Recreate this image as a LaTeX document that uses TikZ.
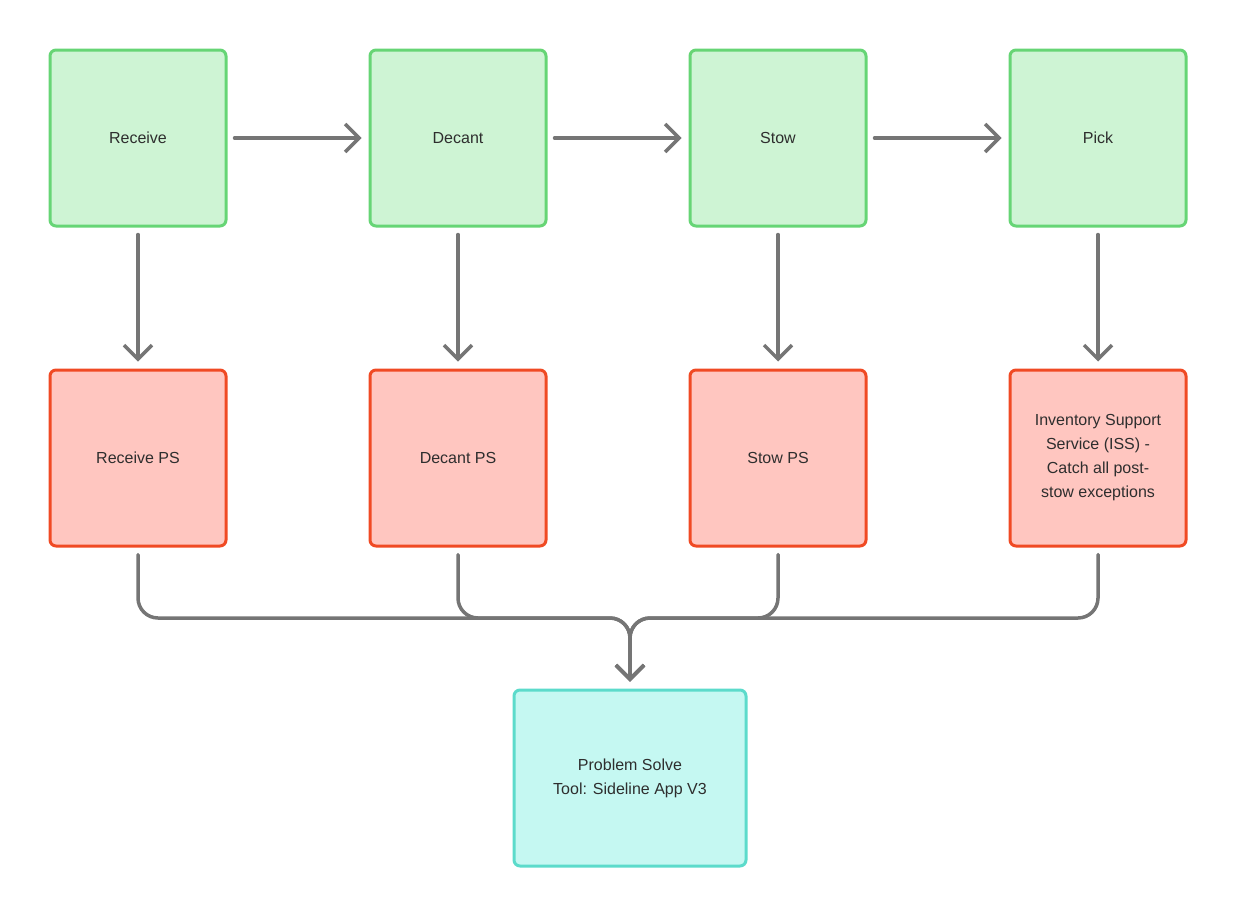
\documentclass[tikz,border=0pt]{standalone}
\usepackage{fontspec}
\setmainfont{Liberation Sans}
\usepackage{xcolor}
\usetikzlibrary{arrows.meta, positioning}

\begin{document}
\begin{tikzpicture}[
        x=1pt, y=-1pt,
        node distance=141pt and 141pt,
        stagebox/.style={draw, rounded corners=6pt, line width=3pt,
            fill={rgb,255:red,206;green,244;blue,212},
            draw={rgb,255:red,102;green,213;blue,117},
            minimum width=176pt, minimum height=176pt, align=center,
            font=\fontsize{16}{24}\selectfont, text={rgb,255:red,46;green,46;blue,46}},
        psbox/.style={stagebox,
            fill={rgb,255:red,255;green,198;blue,192},
            draw={rgb,255:red,240;green,74;blue,36}},
        toolbox/.style={stagebox, minimum width=232pt,
            fill={rgb,255:red,197;green,248;blue,242},
            draw={rgb,255:red,92;green,219;blue,203}},
        arrow/.style={-{Straight Barb[length=14pt, width=28pt]}, line width=3.5pt,
            line cap=round, line join=round, color={rgb,255:red,117;green,117;blue,117}},
        bus/.style={arrow, rounded corners=20pt},
    ]
        \useasboundingbox (0,0) rectangle (1236,916);

        % Stages
        \node[stagebox] (receive) at (138,138) {Receive};
        \node[stagebox, right=of receive] (decant) {Decant};
        \node[stagebox, right=of decant] (stow) {Stow};
        \node[stagebox, right=of stow] (pick) {Pick};

        % Problem solve per stage
        \node[psbox, below=of receive] (receiveps) {Receive PS};
        \node[psbox, below=of decant] (decantps) {Decant PS};
        \node[psbox, below=of stow] (stowps) {Stow PS};
        \node[psbox, below=of pick] (iss)
            {Inventory Support\\Service (ISS) -\\Catch all post-\\stow exceptions};

        % Tool
        \node[toolbox] (tool) at (630,778) {Problem Solve\\Tool: Sideline App V3};
        \coordinate (merge) at (630,618);

        % Arrows
        \draw[arrow] ([xshift=7pt]receive.east) -- ([xshift=-7pt]decant.west);
        \draw[arrow] ([xshift=7pt]decant.east) -- ([xshift=-7pt]stow.west);
        \draw[arrow] ([xshift=7pt]stow.east) -- ([xshift=-7pt]pick.west);
        \draw[arrow] ([yshift=-7pt]receive.south) -- ([yshift=7pt]receiveps.north);
        \draw[arrow] ([yshift=-7pt]decant.south) -- ([yshift=7pt]decantps.north);
        \draw[arrow] ([yshift=-7pt]stow.south) -- ([yshift=7pt]stowps.north);
        \draw[arrow] ([yshift=-7pt]pick.south) -- ([yshift=7pt]iss.north);

        \draw[bus] ([yshift=-7pt]receiveps.south) |- (merge) -- ([yshift=7pt]tool.north);
        \draw[bus] ([yshift=-7pt]decantps.south) |- (merge) -- ([yshift=7pt]tool.north);
        \draw[bus] ([yshift=-7pt]stowps.south) |- (merge) -- ([yshift=7pt]tool.north);
        \draw[bus] ([yshift=-7pt]iss.south) |- (merge) -- ([yshift=7pt]tool.north);

    \end{tikzpicture}
\end{document}
